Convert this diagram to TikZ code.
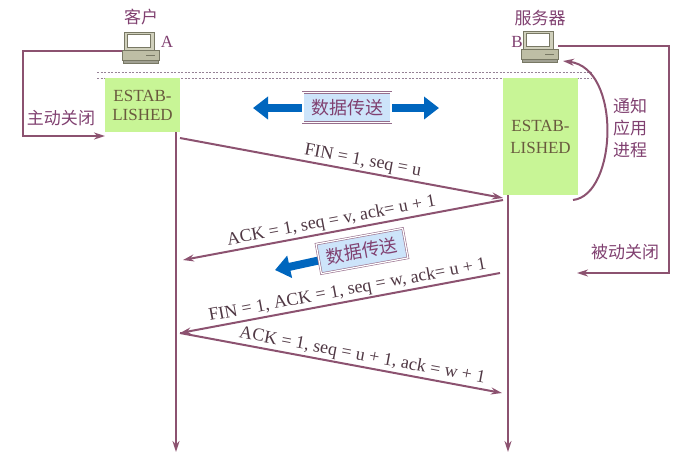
\documentclass[tikz,border=0pt]{standalone}
\usepackage{fontspec}
\setmainfont{Liberation Serif}
\newfontfamily\cjk{Noto Sans CJK SC}
\usetikzlibrary{arrows.meta}

\definecolor{lineclr}{RGB}{140,82,112}
\definecolor{cnclr}{RGB}{128,64,112}
\definecolor{labelclr}{RGB}{80,56,68}
\definecolor{estclr}{RGB}{105,90,62}
\definecolor{estgreen}{RGB}{200,245,150}
\definecolor{flowblue}{RGB}{0,102,190}
\definecolor{boxfill}{RGB}{205,228,250}
\definecolor{boxedge}{RGB}{150,110,140}
\definecolor{sepclr}{RGB}{150,130,150}
\definecolor{iconbody}{RGB}{208,208,188}
\definecolor{iconbase}{RGB}{190,190,165}
\definecolor{iconedge}{RGB}{120,120,100}

\newcommand{\terminal}[2]{%
	\filldraw[draw=iconedge, fill=iconbody] (#1+2,#2) rectangle (#1+32,#2+18);
	\filldraw[draw=iconedge, fill=white] (#1+5,#2+2) rectangle (#1+28,#2+15);
	\filldraw[draw=iconedge, fill=iconbase] (#1,#2+18) rectangle (#1+37,#2+28);
	\filldraw[draw=iconedge, fill=iconedge!70] (#1+1,#2+28) rectangle (#1+36,#2+31);
	\draw[iconedge, line width=1pt] (#1+24,#2+23) -- (#1+33,#2+23);
}

\tikzset{
	msg/.style={draw=lineclr, line width=2pt, -{Stealth[length=11pt,width=7pt]}},
	msglabel/.style={text=labelclr, font=\fontsize{18}{20}\selectfont, sloped, above, inner sep=1.5pt},
	estbox/.style={fill=estgreen, minimum width=75pt, text=estclr, align=center, inner sep=0pt},
	cnlabel/.style={text=cnclr, font=\cjk\fontsize{17}{22}\selectfont, align=center},
	databox/.style={draw=boxedge, double=white, double distance=1.2pt, line width=0.6pt, fill=boxfill,
		text=cnclr, font=\cjk\fontsize{18}{20}\selectfont, minimum width=88pt, minimum height=30pt},
	flow/.style={draw=flowblue, line width=8pt},
	sep/.style={draw=sepclr, line width=0.5pt, dash pattern=on 2pt off 1.5pt}
}

\begin{document}
\begin{tikzpicture}[x=1pt,y=-1pt]
	\useasboundingbox (0,0) rectangle (693,475);

	% hosts
	\terminal{122}{32}
	\terminal{521}{31}
	\node[cnlabel] (nameA) at (141,17) {客户};
	\node[cnlabel] (nameB) at (540,18) {服务器};
	\node[text=cnclr, font=\fontsize{17}{19}\selectfont] (labA) at (167,42) {A};
	\node[text=cnclr, font=\fontsize{17}{19}\selectfont] (labB) at (517,42) {B};

	\draw[sep] (97,72) -- (592,72);
	\draw[sep] (97,78) -- (592,78);

	% connection states
	\node[estbox, minimum height=54pt, font=\fontsize{17}{19}\selectfont] (estA) at (142.5,105) {ESTAB-\\LISHED};
	\node[estbox, minimum height=117pt, font=\fontsize{17}{22}\selectfont] (estB) at (540.5,136.5) {ESTAB-\\LISHED};

	% time lines
	\coordinate (endA) at (176,452);
	\coordinate (endB) at (508,452);
	\draw[msg] (estA.south -| endA) -- (endA);
	\draw[msg] (estB.south -| endB) -- (endB);

	% active close
	\coordinate (hostA) at (122,51);
	\coordinate (bendA) at (23,136);
	\coordinate (closeA) at (105,136);
	\draw[msg] (hostA) -| (bendA) -- (closeA);
	\node[cnlabel] (actA) at (61,118) {主动关闭};

	% passive close
	\coordinate (hostB) at (558,46);
	\coordinate (bendB) at (669,273);
	\coordinate (closeB) at (577,273);
	\draw[msg] (hostB) -| (bendB) -- (closeB);
	\node[cnlabel] (pasB) at (625,252) {被动关闭};

	% notify application
	\coordinate (notS) at (573,200);
	\coordinate (notE) at (563,61);
	\draw[msg] (notS) .. controls (617,195) and (622,68) .. (notE);
	\node[cnlabel] (notify) at (630,128) {通知\\应用\\进程};

	% data transfer
	\coordinate (flowL) at (253,108);
	\coordinate (flowR) at (439,108);
	\draw[flow, {Triangle[length=15pt,width=22pt]}-{Triangle[length=15pt,width=22pt]}] (flowL) -- (flowR);
	\node[databox] (data1) at (347,107.5) {数据传送};

	\coordinate (flowT) at (275,270);
	\draw[flow, -{Triangle[length=15pt,width=22pt]}] (362,251) -- (flowT);
	\node[databox, rotate=10.3] (data2) at (362,251) {数据传送};

	% segments
	\coordinate (a1) at (180,138);
	\coordinate (b1) at (503,198);
	\coordinate (b2) at (503,200);
	\coordinate (a2) at (183,260);
	\coordinate (b3) at (500,273);
	\coordinate (a3) at (180,333);
	\coordinate (b4) at (502,393);
	\draw[msg] (a1) -- node[msglabel, pos=0.56] {FIN = 1, seq = u} (b1);
	\draw[msg] (b2) -- node[msglabel, pos=0.53] {ACK = 1, seq = v, ack= u + 1} (a2);
	\draw[msg] (b3) -- node[msglabel, pos=0.47] {FIN = 1, ACK = 1, seq = w, ack= u + 1} (a3);
	\draw[msg] (a3) -- node[msglabel, pos=0.56] {ACK = 1, seq = u + 1, ack = w + 1} (b4);
\end{tikzpicture}
\end{document}
